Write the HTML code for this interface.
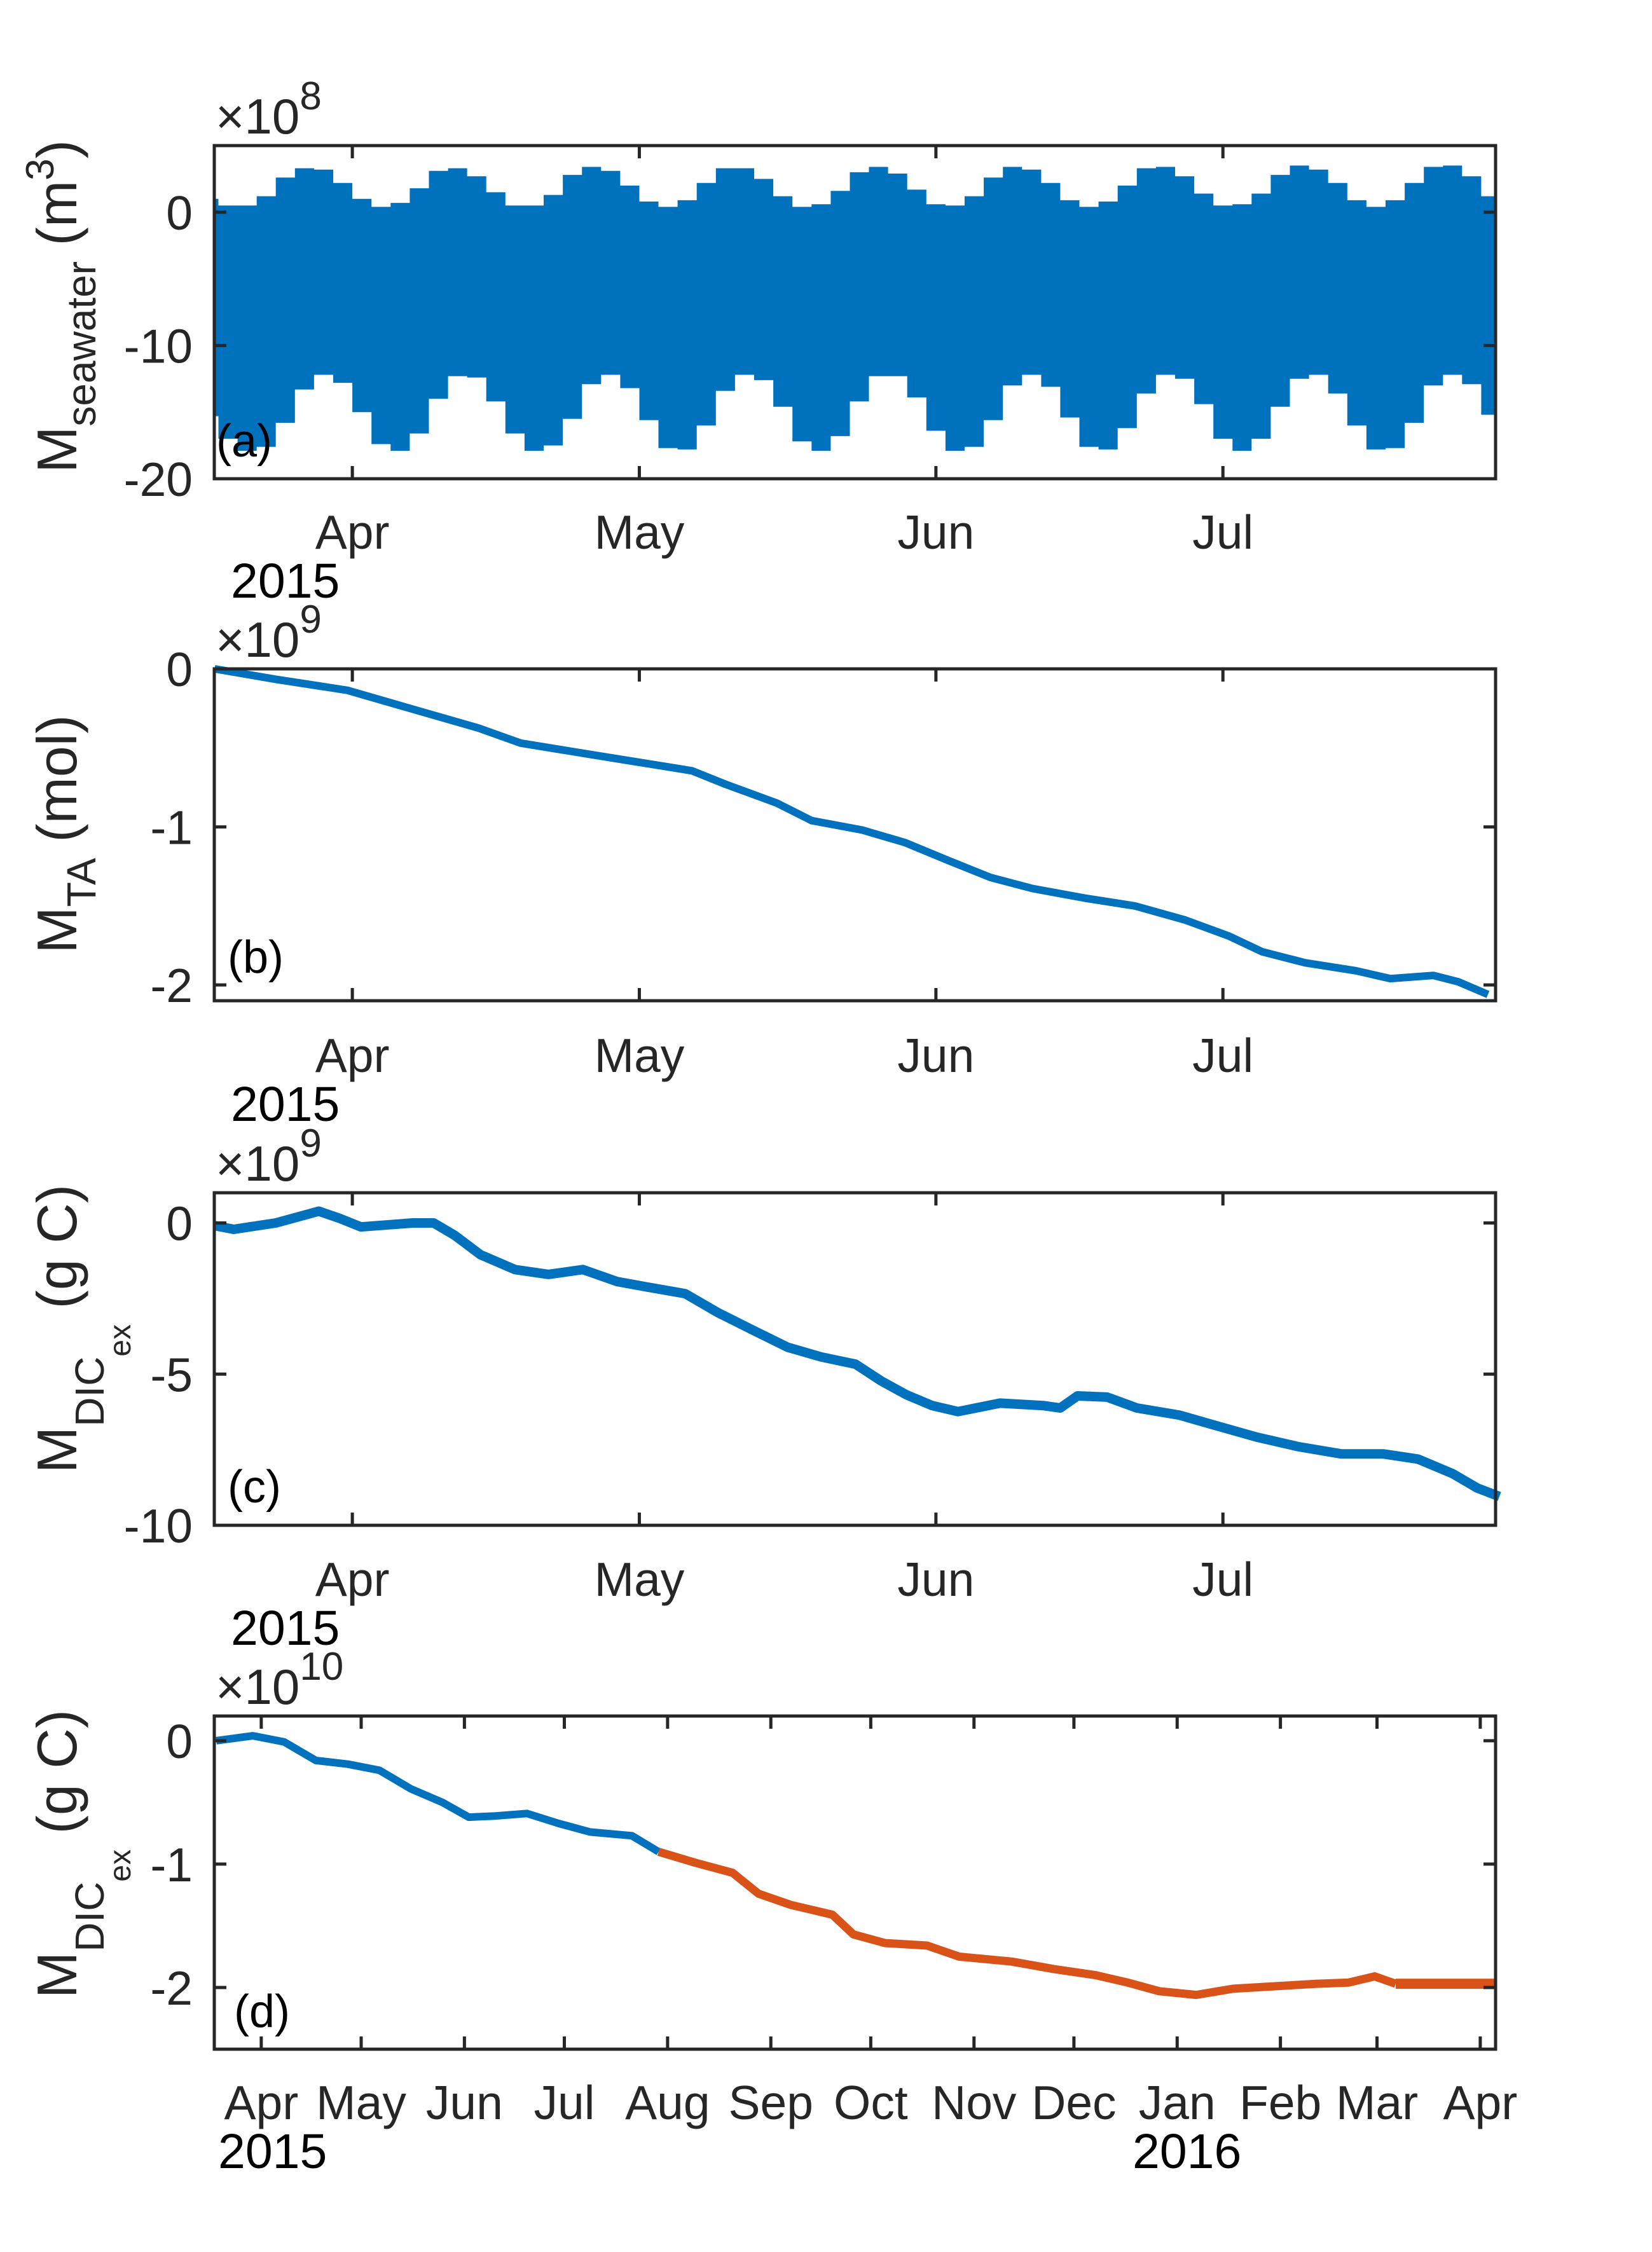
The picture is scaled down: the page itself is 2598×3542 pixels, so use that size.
<!DOCTYPE html>
<html><head><meta charset="utf-8"><style>
html,body{margin:0;padding:0;background:#fff;}
svg{display:block;font-family:"Liberation Sans",Arial,sans-serif;}
</style></head><body>
<svg id="fig" width="2598" height="3542" viewBox="0 0 2598 3542" xmlns="http://www.w3.org/2000/svg"></svg>
<script>
// ---------- data ----------
const envDays = [0,2,4,6,8,10,12,14,16,18,20,22,24,26,28,30,32,34,36,38,40,42,44,46,48,50,52,54,56,58,60,62,64,66,68,70,72,74,76,78,80,82,84,86,88,90,92,94,96,98,100,102,104,106,108,110,112,114,116,118,120,122,124,126,128,130,132,134];
const envUpper = [1.0,0.5,0.5,1.2,2.6,3.3,3.2,2.2,1.0,0.4,0.7,1.8,3.1,3.3,2.7,1.5,0.5,0.5,1.3,2.8,3.4,3.1,2.0,0.8,0.4,0.9,2.2,3.3,3.3,2.5,1.2,0.4,0.6,1.6,3.0,3.4,2.9,1.7,0.6,0.5,1.2,2.6,3.4,3.2,2.2,0.9,0.4,0.8,2.0,3.3,3.4,2.7,1.4,0.5,0.6,1.4,2.8,3.5,3.2,2.2,0.9,0.4,0.9,2.2,3.4,3.5,2.7,1.2];
const envLower = [-15.3,-17.0,-17.9,-17.6,-15.8,-13.3,-12.2,-12.8,-15.0,-17.4,-17.9,-16.6,-14.0,-12.3,-12.4,-14.2,-16.6,-17.9,-17.5,-15.5,-12.9,-12.2,-13.2,-15.6,-17.7,-17.8,-16.0,-13.4,-12.2,-12.6,-14.6,-17.2,-17.9,-16.8,-14.2,-12.3,-12.3,-13.9,-16.4,-17.9,-17.6,-15.6,-13.0,-12.2,-13.1,-15.4,-17.6,-17.8,-16.2,-13.6,-12.2,-12.5,-14.4,-17.0,-17.9,-17.0,-14.6,-12.5,-12.2,-13.6,-16.0,-17.8,-17.7,-15.8,-13.0,-12.2,-12.9,-15.2];
const taDays = [0.6,7.0,14.5,19.3,28.2,32.6,39.7,46.9,50.5,54.0,59.4,63.0,68.3,72.8,77.2,81.7,86.1,91.5,96.8,102.1,106.6,110.1,114.6,119.9,123.5,128.0,130.6,133.7];
const taVals = [0,-0.066,-0.136,-0.22,-0.375,-0.47,-0.54,-0.61,-0.645,-0.73,-0.85,-0.96,-1.02,-1.10,-1.21,-1.32,-1.39,-1.45,-1.50,-1.59,-1.69,-1.79,-1.86,-1.91,-1.96,-1.94,-1.98,-2.06];
const dicDays = [0.6,2.6,7.0,11.5,13.7,15.9,21.3,23.5,25.7,28.4,32.0,35.5,39.1,42.7,46.2,49.8,53.3,56.9,60.5,64.0,67.6,70.3,72.9,75.6,78.3,82.7,87.2,89.0,90.8,93.9,97.0,101.5,105.0,109.5,113.9,118.4,122.8,126.4,130.0,132.6,134.9];
const dicVals = [-0.09,-0.21,0,0.39,0.15,-0.13,0,0,-0.41,-1.05,-1.54,-1.70,-1.54,-1.94,-2.14,-2.34,-2.98,-3.55,-4.11,-4.43,-4.67,-5.23,-5.68,-6.04,-6.24,-5.96,-6.04,-6.12,-5.72,-5.76,-6.12,-6.36,-6.68,-7.08,-7.40,-7.64,-7.64,-7.81,-8.29,-8.77,-9.05];
const longBlueDays = [1.5,12.5,21.9,31.4,41.0,50.5,59.9,69.4,77.3,85.3,94.8,104.2,113.7,126.3,134.3];
const longBlueVals = [0,0.04,-0.01,-0.16,-0.19,-0.24,-0.39,-0.50,-0.62,-0.61,-0.59,-0.67,-0.74,-0.77,-0.90];
const longOrangeDays = [134.3,145.4,156.5,164.3,173.9,186.5,192.8,202.3,214.9,224.5,240.3,252.9,265.5,275.1,284.6,295.7,306.8,319.4,332.0,341.5,349.3,355.6];
const longOrangeVals = [-0.90,-0.99,-1.07,-1.24,-1.33,-1.41,-1.57,-1.64,-1.66,-1.75,-1.79,-1.85,-1.90,-1.96,-2.03,-2.06,-2.01,-1.99,-1.97,-1.96,-1.91,-1.97];
const flatDays = [355.6,385.6];
const flatVals = [-1.97,-1.97];
const shortMonthLabels = ["Apr","May","Jun","Jul"];
const shortMonthDays = [15,45,76,106];
const longMonthLabels = ["Apr","May","Jun","Jul","Aug","Sep","Oct","Nov","Dec","Jan","Feb","Mar","Apr"];
const longMonthDays = [15,45,76,106,137,168,198,229,259,290,321,350,381];
const yTicksA = [0,-10,-20];
const yTicksB = [0,-1,-2];
const yTicksC = [0,-5,-10];
const yTicksD = [0,-1,-2];

// ---------- drawing ----------
const NS = "http://www.w3.org/2000/svg";
const svg = document.getElementById('fig');
const BLUE = "#0072BD", ORANGE = "#D95319", AX = "#262626";
function mk(tag, attrs, parent) {
  const e = document.createElementNS(NS, tag);
  for (const k in attrs) e.setAttribute(k, attrs[k]);
  (parent || svg).appendChild(e);
  return e;
}
const L = 337, R = 2352;
function makeAxes(top, bottom, xmin, xmax, ymin, ymax) {
  const sx = d => L + (d - xmin) / (xmax - xmin) * (R - L);
  const sy = v => bottom - (v - ymin) / (ymax - ymin) * (bottom - top);
  return {sx, sy, top, bottom};
}
function drawFrame(g, ax, xDays, xLabels, yTicks, yLabels) {
  mk('rect', {x: L, y: ax.top, width: R - L, height: ax.bottom - ax.top, fill: 'none', stroke: AX, 'stroke-width': 5}, g);
  xDays.forEach((d, i) => {
    const x = ax.sx(d);
    mk('line', {x1: x, x2: x, y1: ax.bottom, y2: ax.bottom - 20, stroke: AX, 'stroke-width': 5}, g);
    mk('line', {x1: x, x2: x, y1: ax.top, y2: ax.top + 20, stroke: AX, 'stroke-width': 5}, g);
    const t = mk('text', {x: x, y: ax.top + 634, 'font-size': 75, fill: AX, 'text-anchor': 'middle'}, g);
    t.textContent = xLabels[i];
    
    
  });
  yTicks.forEach((v, i) => {
    const y = ax.sy(v);
    mk('line', {x1: L, x2: L + 19, y1: y, y2: y, stroke: AX, 'stroke-width': 5}, g);
    mk('line', {x1: R, x2: R - 19, y1: y, y2: y, stroke: AX, 'stroke-width': 5}, g);
    const t = mk('text', {x: 303, y: y + 27, 'font-size': 75, fill: AX, 'text-anchor': 'end'}, g);
    t.textContent = yLabels[i];
    
    
  });
}
function linePath(ax, days, vals) {
  return days.map((d, i) => (i ? 'L' : 'M') + ax.sx(d).toFixed(1) + ' ' + ax.sy(vals[i]).toFixed(1)).join(' ');
}
function addText(g, x, y, size, str, name, color) {
  const t = mk('text', {x: x, y: y, 'font-size': size, fill: color || '#000'}, g);
  t.textContent = str;
  
  
  return t;
}
function exponent(g, top, exp) {
  const t = mk('text', {x: 339, y: top - 19, 'font-size': 78, fill: AX}, g);
  
  
  const a = mk('tspan', {}, t); a.textContent = '\u00D710';
  const b = mk('tspan', {dy: -38, 'font-size': 62}, t); b.textContent = exp;
}
function ylabel(g, cy, parts) {
  const t = mk('text', {transform: `translate(120 ${cy}) rotate(-90)`, 'text-anchor': 'middle', 'font-size': 88, fill: AX}, g);
  
  
  parts.forEach(p => { const s = mk('tspan', p.a || {}, t); s.textContent = p.s; });
}

// ---- panel a ----
const gA = mk('g', {});  
const axA = makeAxes(229, 753, 0.57, 134.5, -20, 5);
{
  let up = [], lo = [];
  envDays.forEach((d, i) => {
    const x0 = axA.sx(Math.max(0.57, d - 1)), x1 = axA.sx(Math.min(134.5, d + 1));
    up.push(`${x0.toFixed(1)},${axA.sy(envUpper[i]).toFixed(1)}`, `${x1.toFixed(1)},${axA.sy(envUpper[i]).toFixed(1)}`);
    lo.push(`${x0.toFixed(1)},${axA.sy(envLower[i]).toFixed(1)}`, `${x1.toFixed(1)},${axA.sy(envLower[i]).toFixed(1)}`);
  });
  const poly = mk('polygon', {points: up.concat(lo.reverse()).join(' '), fill: BLUE}, gA);
  
  
}
drawFrame(gA, axA, shortMonthDays, shortMonthLabels, yTicksA, ["0","-10","-20"]);
exponent(gA, 229, '8');
addText(gA, 340, 718, 72, '(a)', 'panel-label-a');
addText(gA, 363, 940, 77, '2015', 'year-label');
ylabel(gA, 482, [{s:'M'},{s:'seawater',a:{'font-size':64,dy:30}},{s:' (m',a:{dy:-30}},{s:'3',a:{'font-size':62,dy:-36}},{s:')',a:{dy:36}}]);

// ---- panel b ----
const gB = mk('g', {});  
const axB = makeAxes(1052, 1574, 0.57, 134.5, -2.1, 0);
{
  const p = mk('path', {d: linePath(axB, taDays, taVals), fill: 'none', stroke: BLUE, 'stroke-width': 12, 'stroke-linejoin': 'round'}, gB);
  
  
}
drawFrame(gB, axB, shortMonthDays, shortMonthLabels, yTicksB, ["0","-1","-2"]);
exponent(gB, 1052, '9');
addText(gB, 358, 1530, 72, '(b)', 'panel-label-b');
addText(gB, 363, 1763, 77, '2015', 'year-label');
ylabel(gB, 1312, [{s:'M'},{s:'TA',a:{'font-size':64,dy:30}},{s:' (mol)',a:{dy:-30}}]);

// ---- panel c ----
const gC = mk('g', {});  
const axC = makeAxes(1876, 2399, 0.57, 134.5, -10, 1);
{
  const p = mk('path', {d: linePath(axC, dicDays, dicVals), fill: 'none', stroke: BLUE, 'stroke-width': 15, 'stroke-linejoin': 'round'}, gC);
  
  
}
drawFrame(gC, axC, shortMonthDays, shortMonthLabels, yTicksC, ["0","-5","-10"]);
exponent(gC, 1876, '9');
addText(gC, 358, 2363, 72, '(c)', 'panel-label-c');
addText(gC, 363, 2587, 77, '2015', 'year-label');
ylabel(gC, 2090, [{s:'M'},{s:'DIC',a:{'font-size':64,dy:43}},{s:'ex',a:{'font-size':48,dy:42}},{s:'  (g C)',a:{dy:-85}}]);

// ---- panel d ----
const gD = mk('g', {});  
const axD = makeAxes(2699, 3223, 0.9, 385.6, -2.5, 0.2);
{
  const p1 = mk('path', {d: linePath(axD, longBlueDays, longBlueVals), fill: 'none', stroke: BLUE, 'stroke-width': 12, 'stroke-linejoin': 'round'}, gD);
  
  
  const p2 = mk('path', {d: linePath(axD, longOrangeDays, longOrangeVals), fill: 'none', stroke: ORANGE, 'stroke-width': 13, 'stroke-linejoin': 'round'}, gD);
  
  
  const p3 = mk('path', {d: linePath(axD, flatDays, flatVals), fill: 'none', stroke: ORANGE, 'stroke-width': 16}, gD);
  
  
}
drawFrame(gD, axD, longMonthDays, longMonthLabels, yTicksD, ["0","-1","-2"]);
exponent(gD, 2699, '10');
addText(gD, 368, 3188, 72, '(d)', 'panel-label-d');
addText(gD, 343, 3410, 77, '2015', 'year-label');
addText(gD, 1781, 3410, 77, '2016', 'year-label');
ylabel(gD, 2916, [{s:'M'},{s:'DIC',a:{'font-size':64,dy:43}},{s:'ex',a:{'font-size':48,dy:42}},{s:'  (g C)',a:{dy:-85}}]);
</script>
</body></html>
